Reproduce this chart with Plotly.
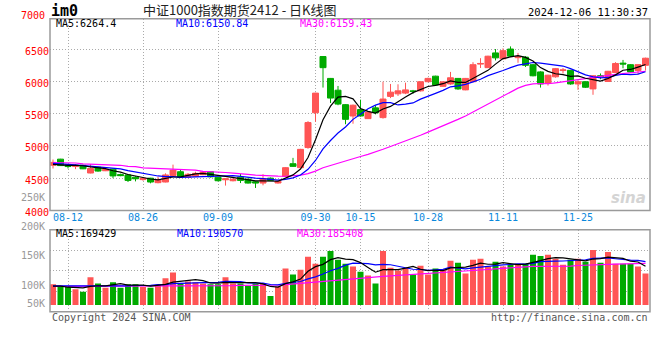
import plotly.graph_objects as go

# ---------------- data ----------------
dates = ["08-08","08-09","08-12","08-13","08-14","08-15","08-16","08-19","08-20","08-21",
         "08-22","08-23","08-26","08-27","08-28","08-29","08-30","09-02","09-03","09-04",
         "09-05","09-06","09-09","09-10","09-11","09-12","09-13","09-18","09-19","09-20",
         "09-23","09-24","09-25","09-26","09-27","09-30","10-08","10-09","10-10","10-11",
         "10-14","10-15","10-16","10-17","10-18","10-21","10-22","10-23","10-24","10-25",
         "10-28","10-29","10-30","10-31","11-01","11-04","11-05","11-06","11-07","11-08",
         "11-11","11-12","11-13","11-14","11-15","11-18","11-19","11-20","11-21","11-22",
         "11-25","11-26","11-27","11-28","11-29","12-02","12-03","12-04","12-05","12-06"]

open_ = [4700,4795,4705,4680,4700,4580,4670,4615,4640,4555,
         4550,4515,4478,4500,4430,4440,4540,4600,4515,4530,
         4555,4600,4515,4475,4460,4516,4485,4445,4424,4500,
         4425,4526,4724,4663,4975,5515,6388,6048,5865,5641,
         5465,5565,5424,5591,5440,5769,5809,5820,5855,5855,
         5997,6083,5925,5962,6048,5870,5997,6270,6215,6444,
         6352,6504,6370,6378,6261,6149,5972,6073,6170,6174,
         5962,5997,5885,6090,6000,6140,6285,6261,6170,6251]
high = [4790,4800,4712,4720,4710,4720,4680,4650,4650,4570,
        4560,4530,4510,4505,4520,4575,4710,4640,4580,4600,
        4610,4610,4520,4500,4495,4566,4495,4455,4561,4510,
        4460,4670,4815,4955,5385,5825,6395,6055,5931,5650,
        5642,5718,5530,5627,5997,5962,5957,5982,5870,6000,
        6060,6090,6000,6149,6055,6055,6300,6362,6400,6504,
        6515,6545,6444,6393,6270,6160,6105,6210,6210,6180,
        6020,6005,6100,6125,6165,6300,6335,6270,6265,6370]
low = [4650,4690,4650,4640,4640,4575,4600,4610,4500,4530,
       4440,4450,4460,4420,4420,4435,4530,4510,4505,4520,
       4545,4510,4450,4385,4450,4424,4415,4348,4389,4455,
       4415,4520,4675,4660,4957,5375,5906,5667,5632,5337,
       5345,5455,5420,5490,5424,5743,5776,5804,5809,5845,
       5990,5940,5915,5950,5870,5865,5990,6210,6210,6327,
       6345,6385,6291,6225,6080,5906,5937,6060,6125,5950,
       5870,5900,5794,6035,5995,6135,6205,6140,6110,6170]
close = [4745,4695,4680,4700,4645,4650,4610,4635,4535,4540,
         4465,4490,4498,4440,4475,4550,4625,4515,4560,4575,
         4595,4520,4460,4490,4485,4465,4424,4425,4495,4465,
         4450,4663,4683,4947,5363,5820,6215,5743,5650,5413,
         5632,5465,5525,5515,5728,5835,5855,5870,5845,5997,
         6048,5946,5995,6058,5885,6048,6261,6280,6393,6367,
         6479,6393,6385,6251,6089,5962,6098,6200,6180,5962,
         5997,5911,6089,6075,6159,6280,6272,6149,6262,6362]

ma5 = [4715,4705,4700,4698,4693,4674,4657,4648,4615,4594,
       4557,4533,4506,4487,4474,4491,4518,4521,4545,4565,
       4574,4553,4542,4528,4510,4484,4465,4458,4459,4455,
       4452,4500,4551,4642,4821,5095,5406,5618,5758,5768,
       5731,5581,5537,5510,5573,5614,5692,5761,5827,5880,
       5923,5941,5966,6009,5986,5986,6049,6106,6173,6270,
       6356,6382,6403,6375,6319,6216,6157,6120,6106,6080,
       6087,6050,6028,6007,6046,6103,6175,6187,6224,6264]
ma10 = [4728,4725,4715,4705,4695,4685,4675,4662,4655,4644,
        4616,4595,4577,4551,4534,4524,4525,4513,4516,4519,
        4532,4535,4532,4537,4538,4529,4509,4500,4493,4482,
        4468,4482,4505,4550,4638,4774,4953,5084,5200,5295,
        5413,5493,5577,5634,5671,5672,5636,5649,5668,5727,
        5768,5816,5863,5918,5933,5955,5995,6036,6091,6128,
        6171,6216,6255,6274,6295,6286,6270,6262,6240,6200,
        6152,6104,6074,6056,6063,6095,6113,6107,6116,6151]
ma30 = [4740,4740,4738,4735,4722,4719,4716,4706,4704,4700,
        4682,4678,4660,4654,4651,4648,4632,4629,4627,4624,
        4606,4602,4598,4588,4578,4572,4560,4548,4540,4536,
        4532,4530,4538,4546,4570,4609,4662,4699,4736,4765,
        4804,4836,4870,4906,4948,4991,5032,5077,5120,5167,
        5215,5262,5313,5365,5412,5465,5526,5588,5651,5714,
        5782,5840,5897,5940,5964,5969,5965,5980,5998,6016,
        6028,6043,6062,6081,6095,6110,6124,6133,6147,6159]

volume = [93000,81000,81000,71000,59000,125000,97000,78000,102000,78000,
          93000,93000,81000,78000,90000,121000,146000,97000,106000,102000,
          97000,93000,93000,125000,97000,97000,86000,97000,97000,40000,
          83000,165000,137000,159000,217000,186000,217000,243000,204000,186000,
          173000,150000,133000,97000,243000,168000,155000,168000,137000,177000,
          137000,164000,159000,199000,190000,142000,204000,208000,174000,195000,
          174000,181000,186000,186000,226000,221000,226000,208000,181000,204000,
          208000,195000,248000,190000,239000,186000,186000,186000,173000,142000]
vol_ma5 = [85000,85000,80000,78000,77000,83400,86600,86000,92200,96000,
           89600,88800,89400,84600,87000,92600,103200,106400,112000,114400,
           109600,99000,98200,102000,101000,101000,99600,100400,94800,83400,
           80600,96400,104400,116800,152200,172800,183200,204400,213400,207200,
           204600,191200,169200,147800,159200,158200,159200,166200,174200,161000,
           154800,156600,154800,167200,169800,170800,178800,188600,183600,184600,
           191000,186400,182000,184400,190600,200000,209000,213400,212400,208000,
           205400,199200,207200,209000,216000,211600,209800,197400,194000,174600]
vol_ma10 = [86000,86000,85000,84000,84000,84000,84000,85000,86000,86500,
            86500,87700,87700,88400,91500,91100,96000,97900,98300,100700,
            101100,101100,102300,107000,107700,105300,99300,99300,98400,92200,
            90800,98000,102400,105800,117800,126700,139800,154400,165100,179700,
            188700,187200,186800,180600,183200,181400,175200,167700,161000,160100,
            156500,157900,160500,170700,165400,162800,167700,171700,175400,177200,
            180900,182600,185300,184000,187600,195500,197700,197700,198400,199300,
            202700,204100,210300,210700,212000,208500,204500,202300,201500,195300]
vol_ma30 = [84000,84000,84000,84000,84000,84000,84000,84000,85000,85000,
            85000,85000,85000,85000,85000,86000,86000,86000,86000,86000,
            86000,87000,87000,87000,87000,88000,88000,89000,89000,89000,
            90000,92000,95000,98000,101000,104000,107000,110000,113000,117000,
            120000,123000,125000,127000,129000,131000,133000,135000,137000,139000,
            141000,143000,145000,148000,151000,153000,156000,158000,160000,163000,
            166000,168000,170000,172000,174000,174000,174000,173000,173000,175000,
            178000,180000,181000,182000,183000,184000,185000,186000,187000,188000]

date_ticks = ["08-12", "08-26", "09-09", "09-30", "10-15", "10-28", "11-11", "11-25"]
price_ticks = [4000, 4500, 5000, 5500, 6000, 6500]
price_extra_label = "7000"
vol_labels = ["250K", "200K", "150K", "100K", "50K"]

title_text = "中证1000指数期货2412 - 日K线图"
symbol_text = "im0"
time_text = "2024-12-06 11:30:37"
price_ma_text = ["MA5:6264.4", "MA10:6150.84", "MA30:6159.43"]
vol_ma_text = ["MA5:169429", "MA10:190570", "MA30:185408"]

# ---------------- style ----------------
W, H = 660, 360
RED = "#ff5555"
GREEN = "#00aa00"
GRID = "#aaaaaa"
FRAME = "#9a9a9a"
MONO = "DejaVu Sans Mono"
DATE_BLUE = "#0a88dc"

def px_y(p):
    return 1 - p / H

def px_x(p):
    return p / W

x_dom = [px_x(50), px_x(650)]
price_dom = [px_y(214.55), px_y(19)]
vol_dom = [px_y(318), px_y(234.3)]
vol_range = [-31000, 339400]
vol_grid = [vol_range[0] + (vol_range[1] - vol_range[0]) * k / 4 for k in (1, 2, 3)]

fig = go.Figure()

fig.add_trace(go.Candlestick(
    x=dates, open=open_, high=high, low=low, close=close,
    increasing=dict(line=dict(color=RED, width=1), fillcolor=RED),
    decreasing=dict(line=dict(color=GREEN, width=1), fillcolor=GREEN),
    whiskerwidth=0, xaxis="x", yaxis="y", hoverinfo="skip",
))
for vals, col in ((ma30, "#ff00ff"), (ma10, "#0000ff"), (ma5, "#000000")):
    fig.add_trace(go.Scatter(x=dates, y=vals, mode="lines",
                             line=dict(color=col, width=1.2),
                             xaxis="x", yaxis="y", hoverinfo="skip"))

bar_colors = [RED if c >= o else GREEN for o, c in zip(open_, close)]
fig.add_trace(go.Bar(x=dates, y=volume, marker=dict(color=bar_colors, line=dict(width=0)),
                     width=0.8, xaxis="x2", yaxis="y2", hoverinfo="skip"))
for vals, col in ((vol_ma30, "#ff00ff"), (vol_ma10, "#0000ff"), (vol_ma5, "#000000")):
    fig.add_trace(go.Scatter(x=dates, y=vals, mode="lines",
                             line=dict(color=col, width=1.2),
                             xaxis="x2", yaxis="y2", hoverinfo="skip"))

grid_common = dict(showgrid=True, gridcolor=GRID, gridwidth=1, griddash="1px,2px",
                   zeroline=False, showline=False, ticks="")

fig.update_layout(
    width=W, height=H, margin=dict(l=0, r=0, t=0, b=0),
    paper_bgcolor="white", plot_bgcolor="white", showlegend=False,
    hovermode=False, boxgap=0.1, boxgroupgap=0.11,
    xaxis=dict(domain=x_dom, type="category", range=[-0.4, 79.6], anchor="y",
               tickmode="array", tickvals=date_ticks, ticktext=date_ticks,
               tickfont=dict(family=MONO, size=10, color=DATE_BLUE),
               rangeslider=dict(visible=False), **grid_common),
    yaxis=dict(domain=price_dom, range=[4000, 6976], anchor="x",
               tickmode="array", tickvals=price_ticks,
               tickfont=dict(family=MONO, size=10, color="#ff0000"),
               ticklabelshift=2, **grid_common),
    xaxis2=dict(domain=x_dom, type="category", matches="x", anchor="y2",
                tickmode="array", tickvals=date_ticks, showticklabels=False,
                **grid_common),
    yaxis2=dict(domain=vol_dom, range=vol_range, anchor="x2",
                tickmode="array", tickvals=vol_grid, showticklabels=False,
                **grid_common),
)

# frames
for dom in (price_dom, vol_dom):
    fig.add_shape(type="rect", xref="paper", yref="paper",
                  x0=x_dom[0], x1=x_dom[1], y0=dom[0], y1=dom[1],
                  line=dict(color=FRAME, width=1.5), layer="above")

ann = []
def text(x, y, s, color="#000", size=10, anchor="left", family=MONO, **kw):
    ann.append(dict(x=px_x(x), y=px_y(y), xref="paper", yref="paper", text=s,
                    showarrow=False, xanchor=anchor, yanchor="middle",
                    font=dict(family=family, size=size, color=color), **kw))

text(49, 11, "<b>" + symbol_text + "</b>", size=15)
text(141, 9.5, title_text, color="#222", size=13, family="Noto Sans CJK SC")
text(650, 12.5, time_text, anchor="right", size=10.5)
text(47, 16, price_extra_label, color="#ff0000", anchor="right")
text(47, 201, vol_labels[0], color="#999999", anchor="right")
for s, yy in zip(vol_labels[1:], (231, 261, 291, 310)):
    text(47, yy, s, color="#999999", anchor="right")
for s, xx, col in zip(price_ma_text, (54, 174, 297.5), ("#000", "#0000ff", "#ff00ff")):
    text(xx, 24, s, color=col)
for s, xx, col in zip(vol_ma_text, (54, 175, 295), ("#000", "#0000ff", "#ff00ff")):
    text(xx, 238, s, color=col)
text(50, 324, "Copyright 2024 SINA.COM", color="#555555")
text(650, 324, "http://finance.sina.com.cn", color="#555555", anchor="right")
text(648, 202, "<b><i>sina</i></b>", color="#d4d4d4", size=15, anchor="right",
     family="DejaVu Sans")
fig.update_layout(annotations=ann)

fig.write_html("out.html", config={"displayModeBar": False, "staticPlot": True},
               post_script="document.body.style.margin='0';document.body.style.padding='0';")
